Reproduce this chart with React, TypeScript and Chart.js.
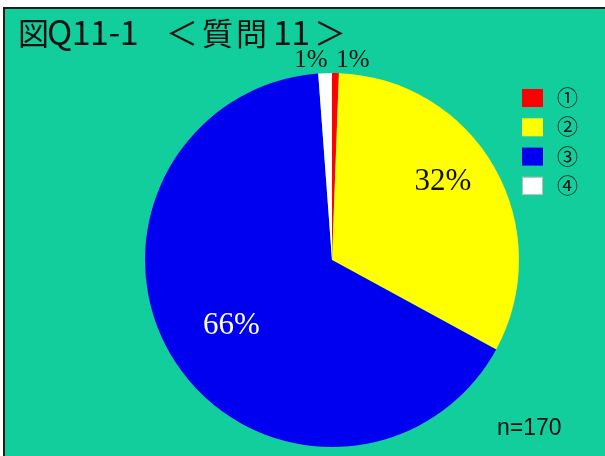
import React, { useEffect, useRef } from "react";
import { Chart, registerables } from "chart.js";

Chart.register(...registerables);

const categories = ["①", "②", "③", "④"];
const counts = [1, 55, 112, 2];
const percentLabels = ["1%", "32%", "66%", "1%"];
const sliceColors = ["#FF0000", "#FFFF00", "#0000F0", "#FFFFFF"];
const titleParts = ["図", "Q11-1", "＜", "質問", "11", "＞"];
const sampleText = "n=170";

const BG = "#12CE9C";

// [x, fontSize, letterSpacing] for each title part
const titleLayout: [number, number, number][] = [
  [18, 31, 0],
  [47, 34, -0.5],
  [166, 32, 0],
  [202, 31, 3],
  [273, 34, -0.5],
  [314, 32, 0],
];

const decorPlugin = {
  id: "decor",
  beforeDraw(chart: any) {
    const { ctx, width, height } = chart;
    ctx.save();
    ctx.fillStyle = "#FFFFFF";
    ctx.fillRect(0, 0, width, height);
    ctx.fillStyle = BG;
    ctx.fillRect(3, 7, width - 3, height - 7);
    ctx.fillStyle = "#1c1c1c";
    ctx.fillRect(3, 7, 2, height - 7);
    ctx.fillRect(3, 7, width - 3, 2);
    ctx.restore();
  },
  afterDraw(chart: any) {
    const { ctx } = chart;
    ctx.save();
    // title
    ctx.fillStyle = "#111";
    ctx.textBaseline = "alphabetic";
    ctx.textAlign = "left";
    titleParts.forEach((t, i) => {
      const [x, fs, ls] = titleLayout[i];
      ctx.font = `${fs}px "Noto Sans CJK JP"`;
      (ctx as any).letterSpacing = `${ls}px`;
      ctx.fillText(t, x, 45);
    });
    (ctx as any).letterSpacing = "0px";

    // slice labels
    const meta = chart.getDatasetMeta(0);
    const ds = chart.data.datasets[0];
    const total = counts.reduce((a: number, b: number) => a + b, 0);
    meta.data.forEach((arc: any, i: number) => {
      const p = arc.getProps(["x", "y", "startAngle", "endAngle", "outerRadius"], true);
      const mid = (p.startAngle + p.endAngle) / 2;
      const frac = ds.data[i] / total;
      ctx.textAlign = "center";
      ctx.textBaseline = "middle";
      if (frac < 0.05) {
        const side = Math.cos(mid) >= 0 ? 1 : -1;
        ctx.font = '25px "Liberation Serif"';
        ctx.fillStyle = "#111";
        ctx.fillText(percentLabels[i], p.x + side * 21, p.y - p.outerRadius - 13);
      } else {
        const isDark = i === 2;
        const rf = isDark ? 0.64 : 0.73;
        const shift = isDark ? 0 : (-6 * Math.PI) / 180;
        const a = mid + shift;
        ctx.font = '31px "Liberation Serif"';
        ctx.fillStyle = isDark ? "#FFFFFF" : "#111";
        ctx.fillText(
          percentLabels[i],
          p.x + Math.cos(a) * p.outerRadius * rf,
          p.y + Math.sin(a) * p.outerRadius * rf + 1
        );
      }
    });

    // legend
    const labels = chart.data.labels as string[];
    labels.forEach((lab: string, i: number) => {
      const y = 89 + i * 29.3;
      ctx.fillStyle = (ds.backgroundColor as string[])[i];
      ctx.fillRect(522, y, 21, 18);
      if (i === 3) {
        ctx.strokeStyle = "#bbbbbb";
        ctx.lineWidth = 1;
        ctx.strokeRect(522.5, y + 0.5, 20, 17);
      }
      ctx.fillStyle = "#111";
      ctx.font = '21px "Noto Sans CJK JP"';
      ctx.textAlign = "left";
      ctx.textBaseline = "middle";
      ctx.fillText(lab, 557, y + 8);
    });

    // sample size
    ctx.font = '23px "Liberation Sans"';
    ctx.fillStyle = "#111";
    ctx.textAlign = "left";
    ctx.textBaseline = "alphabetic";
    ctx.fillText(sampleText, 497, 435);
    ctx.restore();
  },
};

export default function App() {
  const ref = useRef<HTMLCanvasElement | null>(null);
  useEffect(() => {
    if (!ref.current) return;
    const chart = new Chart(ref.current, {
      type: "pie",
      data: {
        labels: categories,
        datasets: [
          {
            data: counts,
            backgroundColor: sliceColors,
            borderWidth: 0,
          },
        ],
      },
      options: {
        responsive: false,
        animation: false,
        devicePixelRatio: 1,
        layout: { padding: { left: 145, right: 86, top: 73, bottom: 9 } },
        plugins: {
          legend: { display: false },
          tooltip: { enabled: false },
          title: { display: false },
        },
      },
      plugins: [decorPlugin],
    } as any);
    return () => chart.destroy();
  }, []);
  return (
    <div style={{ position: "fixed", left: 0, top: 0, width: 605, height: 456 }}>
      <canvas ref={ref} width={605} height={456} style={{ width: 605, height: 456, display: "block" }} />
    </div>
  );
}
